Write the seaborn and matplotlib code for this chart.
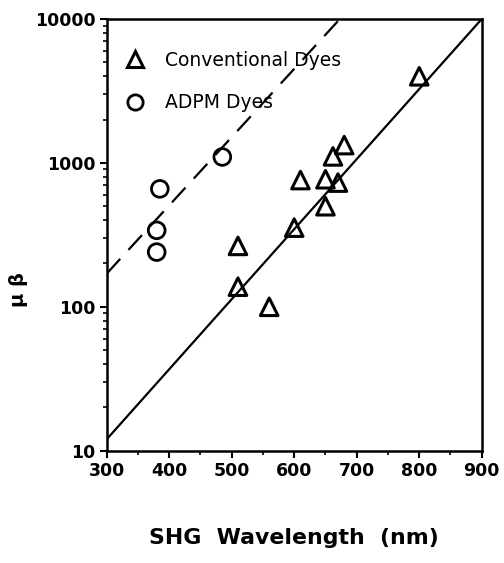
import matplotlib
matplotlib.use("Agg")
import matplotlib.pyplot as plt
from matplotlib.lines import Line2D
from matplotlib.ticker import LogLocator, NullFormatter, FixedLocator
import seaborn as sns
import pandas as pd

# Data
conv_wavelength = [800, 680, 662, 610, 650, 670, 650, 600, 510, 510, 560]
conv_mub = [4000, 1330, 1110, 760, 770, 730, 500, 355, 265, 138, 100]
adpm_wavelength = [485, 385, 380, 380]
adpm_mub = [1100, 660, 340, 240]

# Fit lines (end points)
solid_x = [300, 900]
solid_y = [12, 10000]
dashed_x = [300, 673]
dashed_y = [170, 10000]

x_ticks = [300, 400, 500, 600, 700, 800, 900]
y_ticks = [10, 100, 1000, 10000]
legend_labels = ["Conventional Dyes", "ADPM Dyes"]

sns.set_theme(style="white")
plt.rcParams["font.family"] = ["DejaVu Sans"]
plt.rcParams["text.color"] = "black"

fig = plt.figure(figsize=(5.04, 5.63), dpi=100)
ax = fig.add_axes([0.2117, 0.1995, 0.9558 - 0.2117, 0.9662 - 0.1995])

df_conv = pd.DataFrame({"x": conv_wavelength, "y": conv_mub})
df_adpm = pd.DataFrame({"x": adpm_wavelength, "y": adpm_mub})

sns.lineplot(x=solid_x, y=solid_y, ax=ax, color="black", lw=1.6)
sns.lineplot(x=dashed_x, y=dashed_y, ax=ax, color="black", lw=1.6,
             linestyle=(0, (9, 5.5)))

sns.scatterplot(data=df_conv, x="x", y="y", ax=ax, marker="^", s=160,
                facecolor="none", edgecolor="black", linewidth=2.2, zorder=3)
sns.scatterplot(data=df_adpm, x="x", y="y", ax=ax, marker="o", s=145,
                facecolor="none", edgecolor="black", linewidth=2.0, zorder=3)

ax.set_yscale("log")
ax.set_xlim(300, 900)
ax.set_ylim(10, 10000)

ax.xaxis.set_major_locator(FixedLocator(x_ticks))
ax.xaxis.set_minor_locator(FixedLocator([350, 450, 550, 650, 750, 850]))
ax.yaxis.set_major_locator(FixedLocator(y_ticks))
ax.yaxis.set_minor_locator(LogLocator(base=10, subs=range(2, 10), numticks=20))
ax.yaxis.set_minor_formatter(NullFormatter())
ax.set_xticklabels([str(v) for v in x_ticks])
ax.set_yticklabels([str(v) for v in y_ticks])

ax.tick_params(axis="both", which="major", direction="out", length=5, width=1.5,
               labelsize=12.5, color="black", labelcolor="black", pad=3,
               bottom=True, left=True)
ax.tick_params(axis="both", which="minor", direction="out", length=3, width=1.2,
               color="black", bottom=True, left=True)
for lab in ax.get_xticklabels() + ax.get_yticklabels():
    lab.set_fontweight("bold")

for sp in ax.spines.values():
    sp.set_color("black")
    sp.set_linewidth(1.8)

ax.set_xlabel("SHG  Wavelength  (nm)", fontsize=15.8, fontweight="bold",
              labelpad=35, color="black")
ax.set_ylabel("μ β", fontsize=14, fontweight="bold", color="black")
ax.yaxis.set_label_coords(-0.21, 0.373)

handles = [
    Line2D([], [], marker="^", linestyle="none", markersize=12,
           markerfacecolor="none", markeredgecolor="black", markeredgewidth=2.2),
    Line2D([], [], marker="o", linestyle="none", markersize=11,
           markerfacecolor="none", markeredgecolor="black", markeredgewidth=2.0),
]
leg = ax.legend(handles, legend_labels, loc="upper left", bbox_to_anchor=(-0.008, 0.965),
                frameon=False, fontsize=13.5, handletextpad=0.85, labelspacing=1.25,
                borderaxespad=0.5, handlelength=1.5)
for t in leg.get_texts():
    t.set_color("black")

fig.savefig("out.png", dpi=100)
